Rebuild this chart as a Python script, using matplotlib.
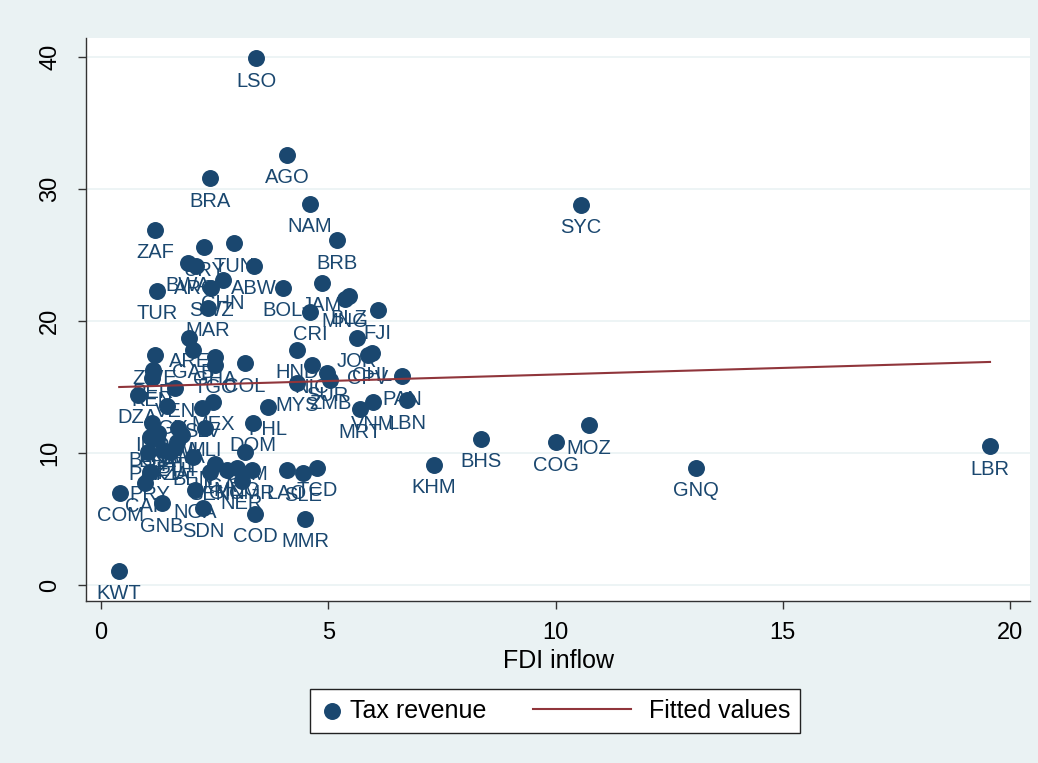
import matplotlib
matplotlib.use("Agg")
import matplotlib.pyplot as plt
from matplotlib.legend_handler import HandlerLine2D

plt.rcParams['font.family'] = ['Liberation Sans', 'DejaVu Sans']

# country codes, FDI inflow (x) and tax revenue (y)
codes = ['LSO', 'AGO', 'BRA', 'NAM', 'SYC', 'ZAF', 'BRB', 'TUN', 'URY', 'BWA',
         'ARG', 'ABW', 'CHN', 'SWZ', 'TUR', 'BOL', 'JAM', 'MNG', 'BLZ', 'FJI',
         'MAR', 'CRI', 'ARE', 'GAB', 'JOR', 'CHL', 'CPV', 'HND', 'ZWE', 'GHA',
         'TGO', 'COL', 'PER', 'KEN', 'NIC', 'PAN', 'ZMB', 'SUR', 'MYS', 'PHL',
         'VNM', 'MRT', 'LBN', 'DZA', 'VEN', 'EGY', 'MEX', 'SLV', 'DOM', 'IND',
         'MWI', 'MLI', 'BGD', 'BFA', 'RWA', 'PAK', 'TZA', 'ETH', 'BEN', 'GTM',
         'UGA', 'MDG', 'CMR', 'LAO', 'SLE', 'TCD', 'GIN', 'SEN', 'NER', 'COM',
         'CAF', 'NGA', 'GNB', 'SDN', 'COD', 'MMR', 'KWT', 'LBR', 'GNQ', 'MOZ',
         'COG', 'BHS', 'KHM', 'NPL', 'HTI', 'LKA', 'PRY']
fdi = [3.41, 4.09, 2.40, 4.60, 10.56, 1.19, 5.19, 2.93, 2.27, 1.91,
       2.09, 3.37, 2.68, 2.42, 1.23, 4.00, 4.86, 5.37, 5.46, 6.09,
       2.35, 4.60, 1.94, 2.02, 5.63, 5.96, 5.87, 4.31, 1.19, 2.51,
       2.51, 3.17, 1.14, 1.12, 4.64, 6.62, 5.04, 4.97, 4.31, 3.67,
       5.98, 5.70, 6.73, 0.81, 1.63, 1.45, 2.46, 2.22, 3.34, 1.12,
       1.69, 2.29, 1.08, 1.23, 1.78, 1.03, 1.52, 1.63, 2.02, 3.17,
       2.51, 2.99, 3.32, 4.09, 4.44, 4.75, 2.77, 2.40, 3.10, 0.42,
       0.97, 2.07, 1.34, 2.24, 3.39, 4.49, 0.40, 19.56, 13.09, 10.74,
       10.01, 8.36, 7.33, 1.36, 1.67, 1.25, 1.08]
tax = [39.9, 32.6, 30.8, 28.9, 28.8, 26.9, 26.1, 25.9, 25.6, 24.4,
       24.2, 24.2, 23.1, 22.5, 22.3, 22.5, 22.9, 21.7, 21.9, 20.8,
       21.0, 20.7, 18.7, 17.8, 18.7, 17.6, 17.4, 17.8, 17.4, 17.3,
       16.7, 16.8, 16.3, 15.7, 16.7, 15.8, 15.5, 16.1, 15.3, 13.5,
       13.9, 13.3, 14.0, 14.4, 14.9, 13.6, 13.9, 13.4, 12.3, 12.3,
       11.9, 11.9, 11.2, 11.1, 11.4, 10.1, 10.1, 10.4, 9.7, 10.1,
       9.2, 8.9, 8.7, 8.7, 8.5, 8.9, 8.7, 8.6, 7.9, 7.0,
       7.7, 7.2, 6.2, 5.8, 5.4, 5.0, 1.1, 10.5, 8.9, 12.1,
       10.8, 11.1, 9.1, 10.2, 10.8, 11.5, 8.6]

# fitted values line end points
fit_x = [0.40, 19.56]
fit_y = [15.0, 16.9]

navy = '#1A476F'
maroon = '#90353B'
bg = '#EAF2F3'

fig = plt.figure(figsize=(10.38, 7.63), dpi=100, facecolor=bg)
ax = fig.add_axes([0.0829, 0.2123, 0.9094, 0.7379])
ax.set_facecolor('white')

pts = ax.scatter(fdi, tax, s=125, color=navy, zorder=3, label='Tax revenue')
for c, x, y in zip(codes, fdi, tax):
    ax.annotate(c, (x, y), xytext=(0, -16.5), textcoords='offset points',
                ha='center', va='center', fontsize=14.5, color=navy, zorder=4)
fit_line, = ax.plot(fit_x, fit_y, color=maroon, lw=1.5, zorder=5,
                    label='Fitted values')

ax.set_xlim(-0.33, 20.44)
ax.set_ylim(-1.21, 41.44)
ax.set_xticks([0, 5, 10, 15, 20])
ax.set_yticks([0, 10, 20, 30, 40])
ax.yaxis.grid(True, color=bg, lw=1.2)
ax.set_axisbelow(True)

for s in ['top', 'right']:
    ax.spines[s].set_visible(False)
for s in ['left', 'bottom']:
    ax.spines[s].set_color('#333333')
    ax.spines[s].set_linewidth(1.0)

ax.tick_params(axis='both', direction='out', length=6, width=1,
               color='#333333', labelsize=17)
ax.tick_params(axis='x', pad=9)
ax.tick_params(axis='y', labelrotation=90, pad=12)
plt.setp(ax.get_yticklabels(), va='center')
ax.set_xlabel('FDI inflow', fontsize=18, labelpad=4)


class LongLine(HandlerLine2D):
    # stata draws the line key much longer than the marker key
    def get_xdata(self, legend, xdescent, ydescent, width, height, fontsize):
        x = [-xdescent - 3.4 * width, -xdescent + 0.5 * width]
        return x, x


leg = fig.legend(handles=[pts, fit_line], loc='center',
                 bbox_to_anchor=(555 / 1038, 1 - 710.5 / 763), ncol=2,
                 fontsize=18, handlelength=1, handletextpad=0.22,
                 columnspacing=5.26, borderpad=0.4, scatterpoints=1,
                 fancybox=False, framealpha=1, edgecolor='#222222',
                 handler_map={fit_line: LongLine()})
leg.get_frame().set_linewidth(1.0)

fig.savefig('out.png', dpi=100, facecolor=bg)
